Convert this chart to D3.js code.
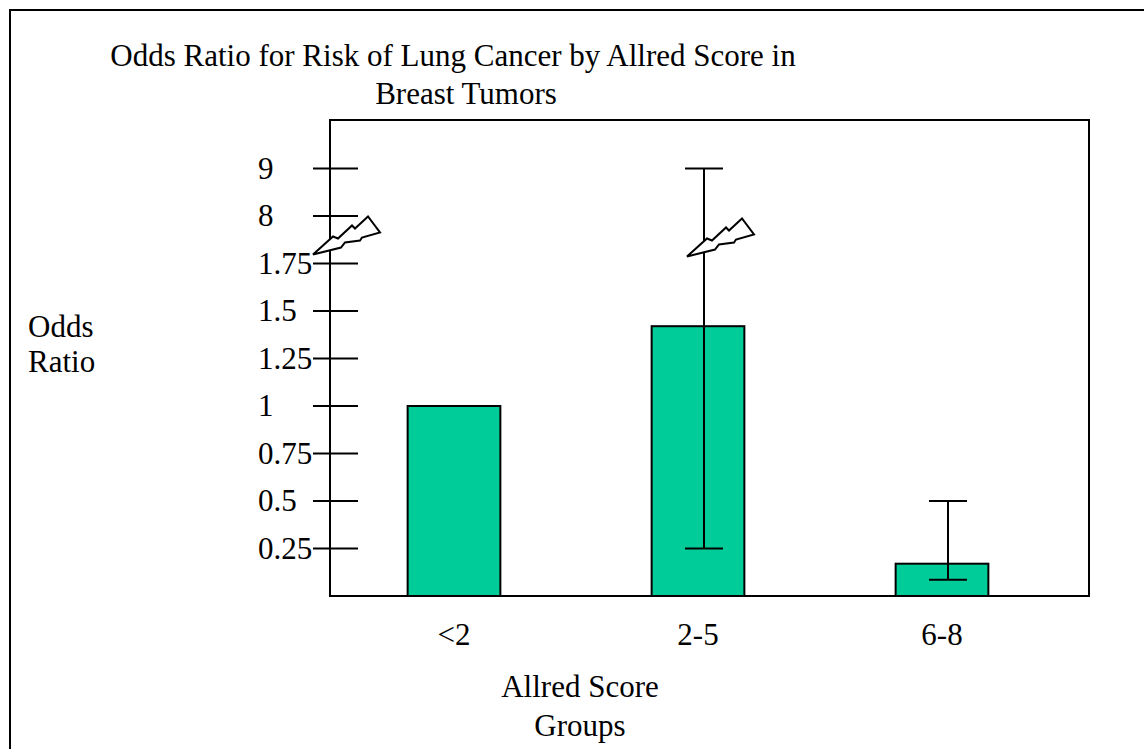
<!DOCTYPE html>
<html>
<head>
<meta charset="utf-8">
<script src="https://cdn.jsdelivr.net/npm/d3@7"></script>
<style>
  body { margin: 0; background: #fff; }
  text { font-family: "Liberation Serif", "DejaVu Serif", serif; fill: #000; font-size: 31px; }
</style>
</head>
<body>
<div id="chart"></div>
<script>
// data
const categories = ["<2", "2-5", "6-8"];
const oddsRatio = [1, 1.42, 0.17];
const ciLow = [null, 0.25, 0.085];
const ciHigh = [null, 9, 0.5];
const brokenBars = ["2-5"]; // error bars that run through the axis break
const tickValues = [0.25, 0.5, 0.75, 1, 1.25, 1.5, 1.75, 8, 9];

const width = 1144;
const height = 749;
const plot = { left: 330, right: 1089, top: 120, bottom: 596 };
const step = 47.5; // pixels per tick step

const svg = d3.select("#chart").append("svg")
    .attr("width", width)
    .attr("height", height);

// outer frame (runs off the page on the right and bottom)
svg.append("path")
    .attr("d", `M10,${height + 5}V10H${width + 5}`)
    .attr("fill", "none")
    .attr("stroke", "#000")
    .attr("stroke-width", 2);

// plot frame
svg.append("rect")
    .attr("x", plot.left)
    .attr("y", plot.top)
    .attr("width", plot.right - plot.left)
    .attr("height", plot.bottom - plot.top)
    .attr("fill", "none")
    .attr("stroke", "#000")
    .attr("stroke-width", 2);

// broken y scale: 0..1.75 then 8, 9
const yScale = d3.scaleLinear()
    .domain([0, 1.75, 8, 9])
    .range([plot.bottom, plot.bottom - 7 * step, plot.bottom - 8 * step, plot.bottom - 9 * step]);

const xScale = d3.scaleBand()
    .domain(categories)
    .range([332, 1064])
    .paddingInner(0.62)
    .paddingOuter(0.31);

const bars = categories.map((c, i) => ({ cat: c, value: oddsRatio[i], lo: ciLow[i], hi: ciHigh[i] }));

// bars
svg.selectAll(".bar")
    .data(bars)
    .enter()
    .append("rect")
    .attr("class", "bar")
    .attr("x", d => xScale(d.cat))
    .attr("y", d => yScale(d.value))
    .attr("width", xScale.bandwidth())
    .attr("height", d => yScale(0) - yScale(d.value))
    .attr("fill", "#00CC99")
    .attr("stroke", "#000")
    .attr("stroke-width", 2);

// error bars (drawn slightly right of centre, as in the original)
const errX = d => xScale(d.cat) + xScale.bandwidth() / 2 + 6;
const capHalf = 19;
const errs = svg.selectAll(".err")
    .data(bars.filter(d => d.lo !== null))
    .enter()
    .append("g")
    .attr("class", "err")
    .attr("stroke", "#000")
    .attr("stroke-width", 2);

errs.append("line")
    .attr("x1", errX).attr("x2", errX)
    .attr("y1", d => yScale(d.lo)).attr("y2", d => yScale(d.hi));
errs.append("line")
    .attr("x1", d => errX(d) - capHalf).attr("x2", d => errX(d) + capHalf)
    .attr("y1", d => yScale(d.hi)).attr("y2", d => yScale(d.hi));
errs.append("line")
    .attr("x1", d => errX(d) - capHalf).attr("x2", d => errX(d) + capHalf)
    .attr("y1", d => yScale(d.lo)).attr("y2", d => yScale(d.lo));

// y ticks: cross the axis line
svg.selectAll(".ytick")
    .data(tickValues)
    .enter()
    .append("line")
    .attr("class", "ytick")
    .attr("x1", plot.left - 17)
    .attr("x2", plot.left + 28)
    .attr("y1", d => yScale(d))
    .attr("y2", d => yScale(d))
    .attr("stroke", "#000")
    .attr("stroke-width", 2);

svg.selectAll(".ylabel")
    .data(tickValues)
    .enter()
    .append("text")
    .attr("class", "ylabel")
    .attr("x", 258)
    .attr("y", d => yScale(d))
    .attr("dy", "0.33em")
    .text(d => d);

// lightning-bolt break markers
const bolt = "M0,0L20,-18L25,-16L39,-29L42,-26L55,-38L67,-22L49,-17L47,-14L32,-12L28,-7Z";
const breakY = yScale(1.75) - 9;
svg.append("path")
    .attr("d", bolt)
    .attr("transform", `translate(${plot.left - 17},${breakY})`)
    .attr("fill", "#fff")
    .attr("stroke", "#000")
    .attr("stroke-width", 2);

svg.selectAll(".bolt")
    .data(bars.filter(d => brokenBars.includes(d.cat)))
    .enter()
    .append("path")
    .attr("class", "bolt")
    .attr("d", bolt)
    .attr("transform", d => `translate(${errX(d) - 17},${breakY + 2})`)
    .attr("fill", "#fff")
    .attr("stroke", "#000")
    .attr("stroke-width", 2);

// x category labels
svg.selectAll(".xlabel")
    .data(categories)
    .enter()
    .append("text")
    .attr("class", "xlabel")
    .attr("x", d => xScale(d) + xScale.bandwidth() / 2)
    .attr("y", 645)
    .attr("text-anchor", "middle")
    .text(d => d);

// title
svg.append("text")
    .attr("x", 453)
    .attr("y", 66)
    .attr("text-anchor", "middle")
    .text("Odds Ratio for Risk of Lung Cancer by Allred Score in");
svg.append("text")
    .attr("x", 466)
    .attr("y", 104)
    .attr("text-anchor", "middle")
    .text("Breast Tumors");

// y axis label
svg.append("text")
    .attr("x", 28)
    .attr("y", 337)
    .text("Odds");
svg.append("text")
    .attr("x", 28)
    .attr("y", 372)
    .text("Ratio");

// x axis label
svg.append("text")
    .attr("x", 580)
    .attr("y", 697)
    .attr("text-anchor", "middle")
    .text("Allred Score");
svg.append("text")
    .attr("x", 580)
    .attr("y", 736)
    .attr("text-anchor", "middle")
    .text("Groups");
</script>
</body>
</html>
